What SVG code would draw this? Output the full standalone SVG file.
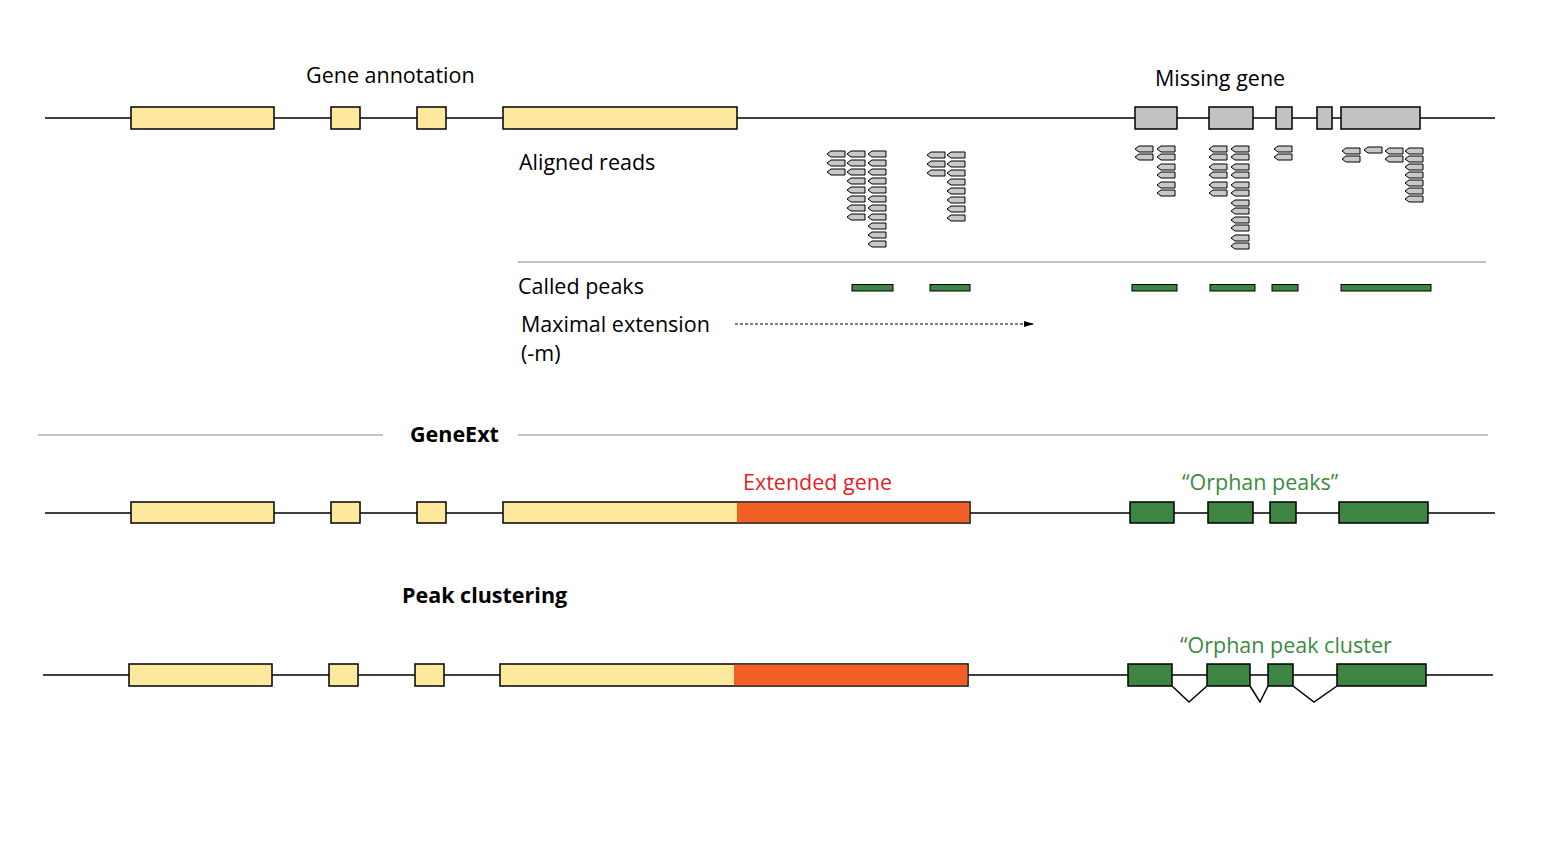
<svg xmlns="http://www.w3.org/2000/svg" xmlns:xlink="http://www.w3.org/1999/xlink" width="1565" height="851" viewBox="0 0 1565 851">
<style>
text{font-family:"Open Sans","Liberation Sans",sans-serif;font-size:21.5px;fill:#000}
.b{font-weight:bold}
.red{fill:#e41f26}
.grn{fill:#3a8b3f}
.ln{stroke:#000;stroke-width:1.5;fill:none}
.sep{stroke:#888;stroke-width:1;fill:none}
.ex{fill:#fde89e;stroke:#000;stroke-width:1.5}
.or{fill:#f15f24;stroke:none}
.gy{fill:#c1c2c4;stroke:#000;stroke-width:1.5}
.gr{fill:#3e8544;stroke:#000;stroke-width:1.5}
.pk{fill:#3e8544;stroke:#000;stroke-width:1}
.rd use{fill:#c8c8c8;stroke:#000;stroke-width:1}
</style>
<defs>
<path id="r" d="M0,3 L4,0 L18,0 L18,6 L4,6 Z"/>
<marker id="ah" markerWidth="10" markerHeight="6" refX="9" refY="3" orient="auto" markerUnits="userSpaceOnUse"><path d="M0,0 L10,3 L0,6 Z" fill="#000"/></marker>
</defs>
<rect width="1565" height="851" fill="#fff"/>

<g id="track1">
<line class="ln" x1="45" y1="118" x2="1495" y2="118"/>
<rect class="ex" x="131" y="107" width="143" height="22"/>
<rect class="ex" x="331" y="107" width="29" height="22"/>
<rect class="ex" x="417" y="107" width="29" height="22"/>
<rect class="ex" x="503" y="107" width="234" height="22"/>
<rect class="gy" x="1135" y="107" width="42" height="22"/>
<rect class="gy" x="1209" y="107" width="44" height="22"/>
<rect class="gy" x="1276" y="107" width="16" height="22"/>
<rect class="gy" x="1317" y="107" width="15" height="22"/>
<rect class="gy" x="1341" y="107" width="79" height="22"/>
<text x="306" y="83">Gene annotation</text>
<text x="1155" y="86">Missing gene</text>
</g>

<g id="reads" class="rd">
<text x="519" y="170">Aligned reads</text>
<!-- group 1 -->
<use href="#r" x="827" y="151"/><use href="#r" x="827" y="160"/><use href="#r" x="827" y="169"/>
<use href="#r" x="847" y="151"/><use href="#r" x="847" y="160"/><use href="#r" x="847" y="169"/><use href="#r" x="847" y="178"/><use href="#r" x="847" y="187"/><use href="#r" x="847" y="196"/><use href="#r" x="847" y="205"/><use href="#r" x="847" y="214"/>
<use href="#r" x="868" y="151"/><use href="#r" x="868" y="160"/><use href="#r" x="868" y="169"/><use href="#r" x="868" y="178"/><use href="#r" x="868" y="187"/><use href="#r" x="868" y="196"/><use href="#r" x="868" y="205"/><use href="#r" x="868" y="214"/><use href="#r" x="868" y="223"/><use href="#r" x="868" y="232"/><use href="#r" x="868" y="241"/>
<!-- group 2 -->
<use href="#r" x="927" y="152"/><use href="#r" x="927" y="161"/><use href="#r" x="927" y="170"/>
<use href="#r" x="947" y="152"/><use href="#r" x="947" y="161"/><use href="#r" x="947" y="170"/><use href="#r" x="947" y="179"/><use href="#r" x="947" y="188"/><use href="#r" x="947" y="197"/><use href="#r" x="947" y="206"/><use href="#r" x="947" y="215"/>
<!-- group A -->
<use href="#r" x="1135" y="146"/><use href="#r" x="1135" y="154"/>
<use href="#r" x="1157" y="146"/><use href="#r" x="1157" y="154"/><use href="#r" x="1157" y="164"/><use href="#r" x="1157" y="172"/><use href="#r" x="1157" y="182"/><use href="#r" x="1157" y="190"/>
<!-- group B -->
<use href="#r" x="1209" y="146"/><use href="#r" x="1209" y="154"/><use href="#r" x="1209" y="164"/><use href="#r" x="1209" y="172"/><use href="#r" x="1209" y="182"/><use href="#r" x="1209" y="190"/>
<use href="#r" x="1231" y="146"/><use href="#r" x="1231" y="154"/><use href="#r" x="1231" y="164"/><use href="#r" x="1231" y="172"/><use href="#r" x="1231" y="182"/><use href="#r" x="1231" y="190"/><use href="#r" x="1231" y="200"/><use href="#r" x="1231" y="208"/><use href="#r" x="1231" y="217"/><use href="#r" x="1231" y="225"/><use href="#r" x="1231" y="235"/><use href="#r" x="1231" y="243"/>
<!-- group C -->
<use href="#r" x="1274" y="146"/><use href="#r" x="1274" y="154"/>
<!-- group D -->
<use href="#r" x="1342" y="148"/><use href="#r" x="1342" y="156"/>
<use href="#r" x="1364" y="147"/>
<use href="#r" x="1385" y="148"/><use href="#r" x="1385" y="156"/>
<use href="#r" x="1405" y="148"/><use href="#r" x="1405" y="156"/><use href="#r" x="1405" y="164"/><use href="#r" x="1405" y="172"/><use href="#r" x="1405" y="180"/><use href="#r" x="1405" y="188"/><use href="#r" x="1405" y="196"/>
</g>

<g id="peaks">
<line class="sep" x1="518" y1="262" x2="1486" y2="262"/>
<text x="518" y="294">Called peaks</text>
<rect class="pk" x="852" y="284.5" width="41" height="6.5"/>
<rect class="pk" x="930" y="284.5" width="40" height="6.5"/>
<rect class="pk" x="1132" y="284.5" width="45" height="6.5"/>
<rect class="pk" x="1210" y="284.5" width="45" height="6.5"/>
<rect class="pk" x="1272" y="284.5" width="26" height="6.5"/>
<rect class="pk" x="1341" y="284.5" width="90" height="6.5"/>
</g>

<g id="extension">
<text x="521" y="332">Maximal extension</text>
<text x="521" y="361">(-m)</text>
</g>

<g id="connectors">
<line x1="735" y1="324" x2="1033" y2="324" stroke="#000" stroke-width="1" stroke-dasharray="3,2" marker-end="url(#ah)"/>
</g>

<g id="geneext-header">
<line class="sep" x1="38" y1="435" x2="383" y2="435"/>
<line class="sep" x1="518" y1="435" x2="1488" y2="435"/>
<text class="b" x="410" y="442">GeneExt</text>
</g>

<g id="track2">
<line class="ln" x1="45" y1="513" x2="1495" y2="513"/>
<rect class="ex" x="131" y="502" width="143" height="21"/>
<rect class="ex" x="331" y="502" width="29" height="21"/>
<rect class="ex" x="417" y="502" width="29" height="21"/>
<rect class="ex" x="503" y="502" width="467" height="21"/>
<rect class="or" x="737" y="502.75" width="232.25" height="19.5"/>
<rect class="gr" x="1130" y="502" width="44" height="21"/>
<rect class="gr" x="1208" y="502" width="45" height="21"/>
<rect class="gr" x="1270" y="502" width="26" height="21"/>
<rect class="gr" x="1339" y="502" width="89" height="21"/>
<text class="red" x="743" y="490">Extended gene</text>
<text class="grn" x="1182" y="490">“Orphan peaks”</text>
</g>

<g id="track3">
<text class="b" x="402" y="603">Peak clustering</text>
<line class="ln" x1="43" y1="675" x2="1493" y2="675"/>
<rect class="ex" x="129" y="664" width="143" height="22"/>
<rect class="ex" x="329" y="664" width="29" height="22"/>
<rect class="ex" x="415" y="664" width="29" height="22"/>
<rect class="ex" x="500" y="664" width="468" height="22"/>
<rect class="or" x="734" y="664.75" width="233.25" height="20.5"/>
<rect class="gr" x="1128" y="664" width="44" height="22"/>
<rect class="gr" x="1207" y="664" width="43" height="22"/>
<rect class="gr" x="1268" y="664" width="25" height="22"/>
<rect class="gr" x="1337" y="664" width="89" height="22"/>
<polyline class="ln" points="1172,686 1189,702 1207,686"/>
<polyline class="ln" points="1250,686 1260,702 1268,686"/>
<polyline class="ln" points="1293,686 1314,702 1337,686"/>
<text class="grn" x="1180" y="653">“Orphan peak cluster</text>
</g>
</svg>
